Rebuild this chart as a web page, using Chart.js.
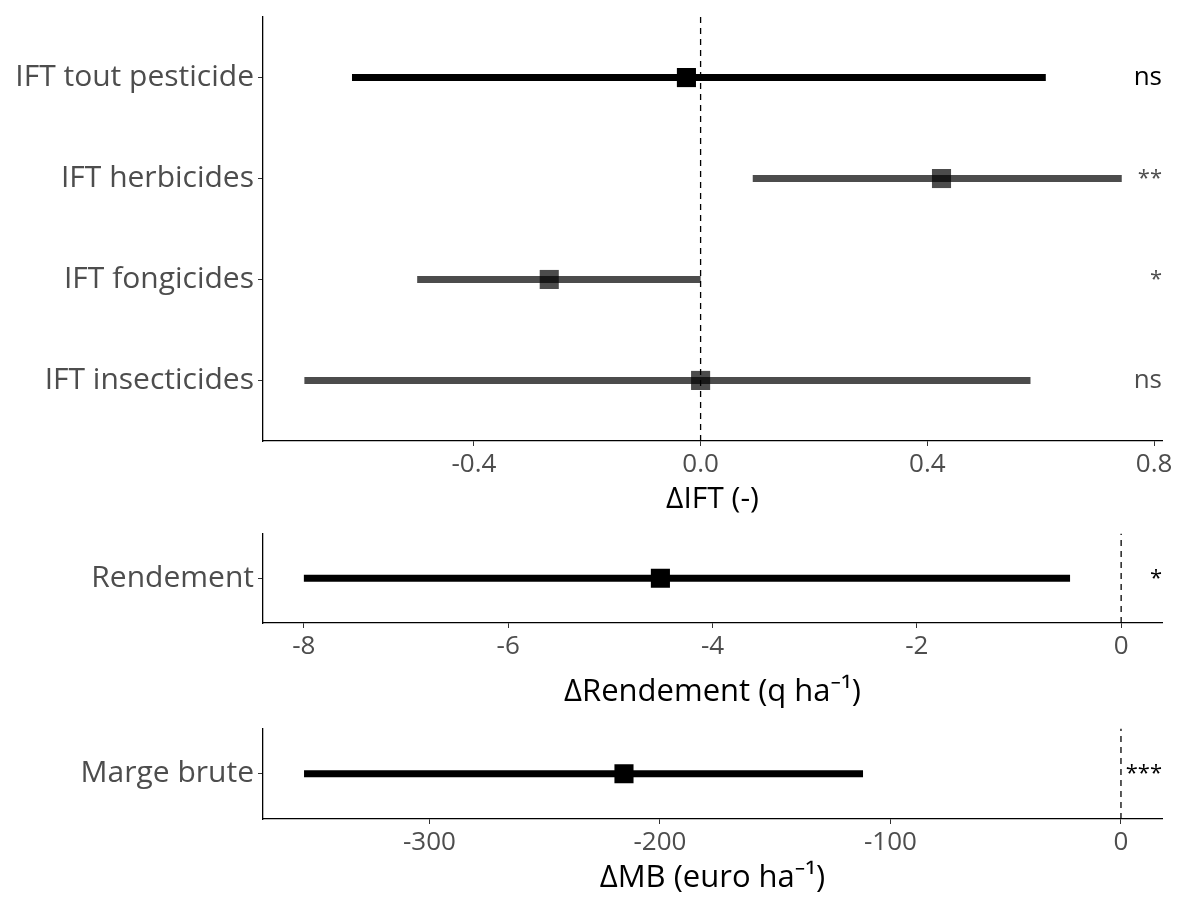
<!DOCTYPE html>
<html>
<head>
<meta charset="utf-8">
<script src="https://cdn.jsdelivr.net/npm/chart.js@4/dist/chart.umd.min.js"></script>
<style>
	html, body { margin: 0; padding: 0; background: #fff; }
	#wrap { position: relative; width: 1177px; height: 901px; }
	.panel { position: absolute; left: 0; width: 1177px; }
</style>
</head>
<body>
<div id="wrap">
	<div class="panel" style="top:0;height:525px"><canvas id="iftChart"></canvas></div>
	<div class="panel" style="top:520px;height:195px"><canvas id="rendChart"></canvas></div>
	<div class="panel" style="top:715px;height:186px"><canvas id="mbChart"></canvas></div>
</div>
<script>
// IFT panel (rows listed top to bottom)
const iftLabels = ['IFT tout pesticide', 'IFT herbicides', 'IFT fongicides', 'IFT insecticides'];
const iftEstimate = [-0.025, 0.425, -0.267, 0.0];
const iftLower = [-0.615, 0.092, -0.500, -0.699];
const iftUpper = [0.609, 0.743, 0.0, 0.582];
const iftSignif = ['ns', '**', '*', 'ns'];
const iftTicks = [-0.4, 0.0, 0.4, 0.8];

// Rendement panel
const rendLabels = ['Rendement'];
const rendEstimate = [-4.51];
const rendLower = [-8.0];
const rendUpper = [-0.5];
const rendSignif = ['*'];
const rendTicks = [-8, -6, -4, -2, 0];

// Marge brute panel
const mbLabels = ['Marge brute'];
const mbEstimate = [-215.6];
const mbLower = [-354.4];
const mbUpper = [-111.9];
const mbSignif = ['***'];
const mbTicks = [-300, -200, -100, 0];

const FONT = "'Open Sans', 'Noto Sans', sans-serif";
const BLACK = '#000000';
const GREY = 'rgba(0, 0, 0, 0.7)';
const TEXT_GREY = '#4d4d4d';

// significance labels at the right edge of the plot
const signifPlugin = {
	id: 'signif',
	afterDatasetsDraw(chart, args, opts) {
		const ctx = chart.ctx;
		const yScale = chart.scales.y;
		const n = opts.labels.length;
		ctx.save();
		ctx.textAlign = 'right';
		ctx.textBaseline = 'middle';
		opts.labels.forEach((txt, i) => {
			const y = yScale.getPixelForValue(n - i);
			ctx.fillStyle = opts.colors[i] === GREY ? TEXT_GREY : BLACK;
			// asterisks are smaller in the original font
			ctx.font = txt.startsWith('*') ? `22px ${FONT}` : `26px ${FONT}`;
			ctx.fillText(txt, chart.chartArea.right, y);
		});
		ctx.restore();
	}
};

function makeForest(canvasId, cfg) {
	const n = cfg.labels.length;
	const datasets = [];

	// vertical dashed reference line at 0
	datasets.push({
		data: [{ x: 0, y: 0.4 }, { x: 0, y: n + 0.6 }],
		showLine: true,
		borderColor: BLACK,
		borderWidth: 1.3,
		borderDash: [6, 5],
		pointRadius: 0
	});

	// point estimates
	datasets.push({
		data: cfg.estimate.map((v, i) => ({ x: v, y: n - i })),
		pointStyle: 'rect',
		pointRadius: 13.5,
		pointBackgroundColor: cfg.colors,
		pointBorderWidth: 0,
		showLine: false
	});

	// confidence intervals
	cfg.lower.forEach((lo, i) => {
		datasets.push({
			data: [{ x: lo, y: n - i }, { x: cfg.upper[i], y: n - i }],
			showLine: true,
			borderColor: cfg.colors[i],
			borderWidth: 7,
			borderCapStyle: 'butt',
			pointRadius: 0
		});
	});

	return new Chart(document.getElementById(canvasId), {
		type: 'scatter',
		data: { datasets },
		options: {
			responsive: true,
			maintainAspectRatio: false,
			animation: false,
			layout: { padding: { top: cfg.padTop, right: 15, left: 0, bottom: 0 } },
			plugins: {
				legend: { display: false },
				tooltip: { enabled: false },
				signif: { labels: cfg.signif, colors: cfg.colors }
			},
			scales: {
				x: {
					type: 'linear',
					min: cfg.xMin,
					max: cfg.xMax,
					afterBuildTicks: (scale) => { scale.ticks = cfg.ticks.map(v => ({ value: v })); },
					afterFit: (scale) => {
						scale.height = cfg.xHeight;
						scale.paddingLeft = 0;
						scale.paddingRight = 0;
					},
					ticks: {
						color: TEXT_GREY,
						font: { family: FONT, size: 26 },
						padding: 3,
						maxRotation: 0,
						callback: cfg.tickFormat
					},
					grid: { drawOnChartArea: false, drawTicks: true, tickLength: 5, color: '#333333' },
					border: { display: true, color: BLACK, width: 1.3 },
					title: {
						display: true,
						text: cfg.title,
						color: BLACK,
						font: { family: FONT, size: cfg.titleSize },
						padding: { top: 0, bottom: cfg.titlePad }
					}
				},
				y: {
					type: 'linear',
					min: 0.4,
					max: n + 0.6,
					afterBuildTicks: (scale) => { scale.ticks = cfg.labels.map((l, i) => ({ value: n - i })); },
					afterFit: (scale) => {
						scale.width = 263;
						scale.paddingTop = 0;
						scale.paddingBottom = 0;
					},
					ticks: {
						color: TEXT_GREY,
						font: { family: FONT, size: 30 },
						padding: 4,
						callback: (v) => cfg.labels[n - v]
					},
					grid: { drawOnChartArea: false, drawTicks: true, tickLength: 5, color: '#333333' },
					border: { display: true, color: BLACK, width: 1.3 }
				}
			}
		},
		plugins: [signifPlugin]
	});
}

makeForest('iftChart', {
	labels: iftLabels,
	estimate: iftEstimate,
	lower: iftLower,
	upper: iftUpper,
	signif: iftSignif,
	ticks: iftTicks,
	colors: iftLabels.map((l, i) => i === 0 ? BLACK : GREY),
	xMin: -0.772, xMax: 0.814,
	tickFormat: (v) => v.toFixed(1),
	title: '\u0394IFT (-)',
	titleSize: 30,
	padTop: 17, xHeight: 84, titlePad: 8
});

makeForest('rendChart', {
	labels: rendLabels,
	estimate: rendEstimate,
	lower: rendLower,
	upper: rendUpper,
	signif: rendSignif,
	ticks: rendTicks,
	colors: [BLACK],
	xMin: -8.40, xMax: 0.40,
	tickFormat: (v) => String(v),
	title: '\u0394Rendement (q ha\u207B\u00B9)',
	titleSize: 31,
	padTop: 13, xHeight: 92, titlePad: 4
});

makeForest('mbChart', {
	labels: mbLabels,
	estimate: mbEstimate,
	lower: mbLower,
	upper: mbUpper,
	signif: mbSignif,
	ticks: mbTicks,
	colors: [BLACK],
	xMin: -372.2, xMax: 17.8,
	tickFormat: (v) => String(v),
	title: '\u0394MB (euro ha\u207B\u00B9)',
	titleSize: 31,
	padTop: 12, xHeight: 82, titlePad: 4
});
</script>
</body>
</html>
